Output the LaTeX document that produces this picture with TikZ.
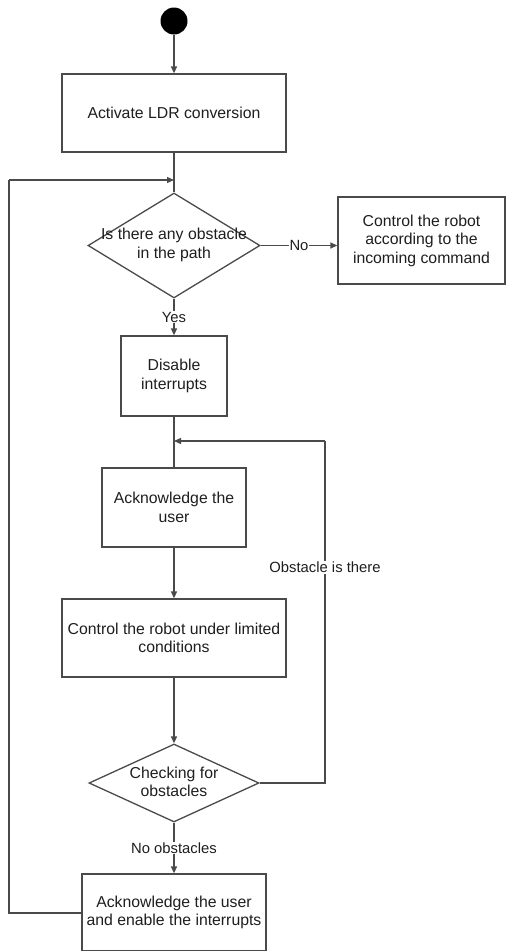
\documentclass[tikz,border=0pt]{standalone}
\usepackage{fontspec}
\setmainfont{Liberation Sans}
\usetikzlibrary{shapes.geometric,arrows.meta}
\definecolor{ln}{HTML}{4A4A4A}
\definecolor{tx}{HTML}{1E1E1E}
\begin{document}
\begin{tikzpicture}[x=1pt,y=-1pt,
  every node/.style={text=tx},
  box/.style={draw=ln,line width=1.3pt,rectangle,inner sep=0pt,align=center,font=\fontsize{15.8}{18.5}\selectfont},
  dia/.style={draw=ln,line width=1.3pt,diamond,inner sep=0pt},
  dtext/.style={align=center,inner sep=0pt,font=\fontsize{15.8}{18.3}\selectfont},
  lab/.style={fill=white,inner sep=1pt,font=\fontsize{14.8}{17}\selectfont},
  conn/.style={draw=ln,line width=1.3pt},
  arr/.style={conn,-{Triangle[length=7pt,width=6pt]}}]
\useasboundingbox (0,0) rectangle (507,951);
\node[circle,fill=black,minimum size=27pt,inner sep=0pt] (start) at (174,21) {};
\node[box,minimum width=224pt,minimum height=78pt] (act) at (174,113) {Activate LDR conversion};
\node[dia,minimum width=172pt,minimum height=105pt] (d1) at (174,245.5) {};
\node[dtext] (d1t) at (174,245) {Is there any obstacle\\in the path};
\node[box,minimum width=167pt,minimum height=87pt] (ctrl) at (421.5,240.5) {Control the robot\\according to the\\incoming command};
\node[box,minimum width=106pt,minimum height=80pt] (dis) at (174,376) {Disable\\interrupts};
\node[box,minimum width=144pt,minimum height=79pt] (ack) at (174,507.5) {Acknowledge the\\user};
\node[box,minimum width=224pt,minimum height=78pt] (ctl) at (174,638) {Control the robot under limited\\conditions};
\node[dia,minimum width=170pt,minimum height=78pt] (d2) at (174,783) {};
\node[dtext] (d2t) at (174,782) {Checking for\\obstacles};
\node[box,minimum width=184pt,minimum height=77pt] (fin) at (174,912.5) {Acknowledge the user\\and enable the interrupts};
\coordinate (j1) at (174,180);
\coordinate (j2) at (174,441);
\coordinate (l1) at (9,913);
\coordinate (l2) at (9,180);
\coordinate (r1) at (325,783);
\coordinate (r2) at (325,441);
\draw[arr] (start) -- (act);
\draw[conn] (act) -- (d1);
\draw[arr] (d1.east) -- node[lab]{No} (d1.east -| ctrl.west);
\draw[arr] (d1) -- node[lab]{Yes} (dis);
\draw[conn] (dis) -- (ack);
\draw[arr] (ack) -- (ctl);
\draw[arr] (ctl) -- (d2);
\draw[arr] (d2) -- node[lab]{No obstacles} (fin);
\draw[conn] (fin.west |- l1) -- (l1) -- (l2);
\draw[arr] (l2) -- (j1);
\draw[conn] (d2.east) -- (r1) -- node[lab,pos=0.63]{Obstacle is there} (r2);
\draw[arr] (r2) -- (j2);
\end{tikzpicture}
\end{document}
